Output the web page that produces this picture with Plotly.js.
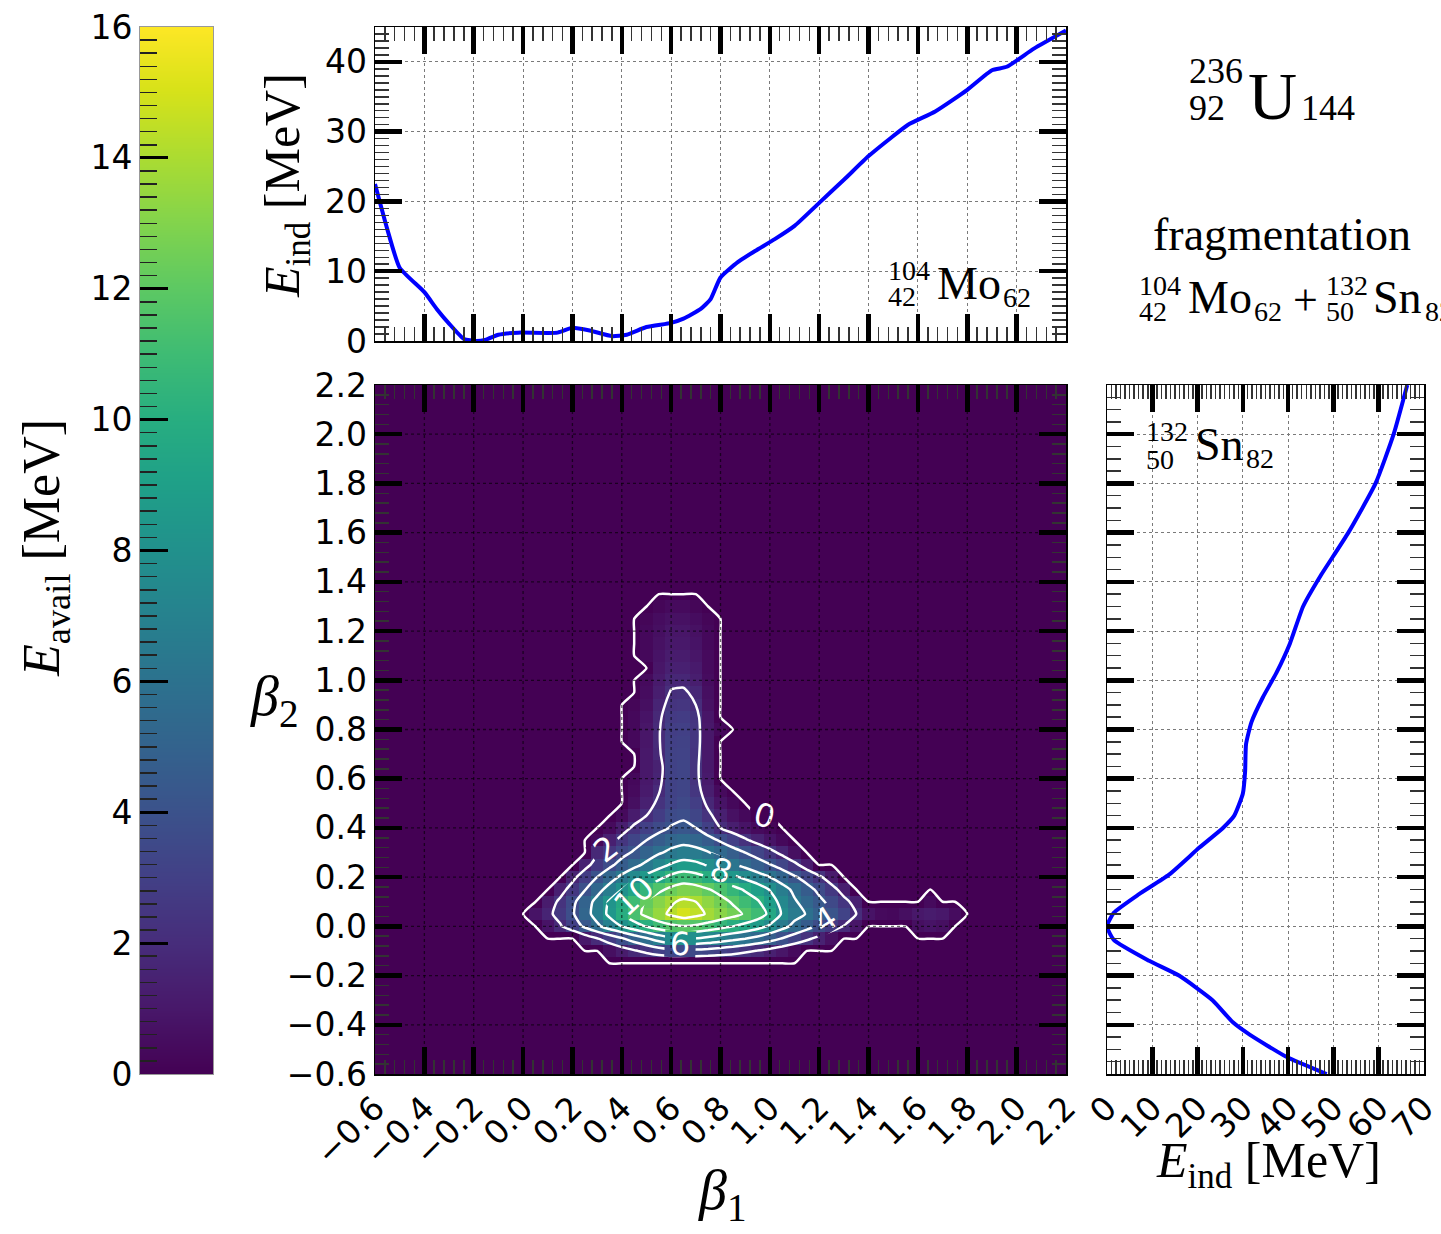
<!DOCTYPE html>
<html>
<head>
<meta charset="utf-8">
<script src="https://cdn.plot.ly/plotly-3.0.1.min.js"></script>
<style>html,body{margin:0;padding:0;background:#fff;}#chart{width:1441px;height:1234px;}</style>
</head>
<body>
<div id="chart"></div>
<script>
// ---------------- data ----------------
const beta1Ticks = [-0.6,-0.4,-0.2,0,0.2,0.4,0.6,0.8,1.0,1.2,1.4,1.6,1.8,2.0,2.2];
const beta1TickText = ['\u22120.6','\u22120.4','\u22120.2','0.0','0.2','0.4','0.6','0.8','1.0','1.2','1.4','1.6','1.8','2.0','2.2'];
const eIndTopTicks = [0,10,20,30,40];
const eIndRightTicks = [0,10,20,30,40,50,60,70];
const colorbarTicks = [0,2,4,6,8,10,12,14,16];

// top panel: E_ind of 104Mo vs beta1
const moBeta1 = [-0.60,-0.55,-0.50,-0.40,-0.35,-0.30,-0.24,-0.19,-0.15,-0.10,-0.02,0.14,0.20,0.27,0.36,0.42,0.50,0.60,0.65,0.72,0.76,0.80,0.87,0.94,1.02,1.10,1.20,1.30,1.40,1.49,1.56,1.67,1.80,1.90,1.96,2.07,2.20];
const moEind  = [22.5,16.0,10.5,7.0,4.6,2.5,0.3,0.0,0.2,0.9,1.2,1.2,1.9,1.5,0.7,0.9,2.0,2.6,3.2,4.6,6.0,9.1,11.3,12.9,14.6,16.5,19.8,23.1,26.5,29.1,31.0,32.9,36.0,38.8,39.3,41.9,44.5];

// right panel: E_ind of 132Sn vs beta2
const snEind  = [66.3,63.3,59.3,53.3,47.0,43.3,40.4,37.4,34.4,31.9,30.7,30.5,30.0,28.1,25.6,20.4,13.7,7.0,1.5,0.0,1.5,9.3,15.9,23.3,27.8,31.5,39.6,48.5];
const snBeta2 = [2.20,2.00,1.80,1.60,1.42,1.30,1.15,1.03,0.93,0.83,0.74,0.63,0.54,0.45,0.40,0.32,0.21,0.13,0.055,0.0,-0.055,-0.14,-0.20,-0.30,-0.39,-0.44,-0.53,-0.60];

// main map: E_avail(beta1, beta2), rows listed from top (beta2 = 1.40) to bottom (beta2 = -0.20)
const beta1Grid = [-0.05,0.00,0.05,0.10,0.15,0.20,0.25,0.30,0.35,0.40,0.45,0.50,0.55,0.60,0.65,0.70,0.75,0.80,0.85,0.90,0.95,1.00,1.05,1.10,1.15,1.20,1.25,1.30,1.35,1.40,1.45,1.50,1.55,1.60,1.65,1.70,1.75,1.80,1.85];
const beta2RowsTopDown = [1.40,1.35,1.30,1.25,1.20,1.15,1.10,1.05,1.00,0.95,0.90,0.85,0.80,0.75,0.70,0.65,0.60,0.55,0.50,0.45,0.40,0.35,0.30,0.25,0.20,0.15,0.10,0.05,0.00,-0.05,-0.10,-0.15,-0.20];
const eAvailRowsTopDown = [
[0,0,0,0,0,0,0,0,0,0, 0,0,0,0,0,0,0,0,0,0, 0,0,0,0,0,0,0,0,0,0, 0,0,0,0,0,0,0,0,0],
[0,0,0,0,0,0,0,0,0,0, 0,0,0,0,0,0,0,0,0,0, 0,0,0,0,0,0,0,0,0,0, 0,0,0,0,0,0,0,0,0],
[0,0,0,0,0,0,0,0,0,0, 0,0,0.2,0.4,0.4,0.2,0,0,0,0, 0,0,0,0,0,0,0,0,0,0, 0,0,0,0,0,0,0,0,0],
[0,0,0,0,0,0,0,0,0,0, 0,0.2,0.5,0.7,0.7,0.5,0.2,0,0,0, 0,0,0,0,0,0,0,0,0,0, 0,0,0,0,0,0,0,0,0],
[0,0,0,0,0,0,0,0,0,0, 0,0.3,0.6,0.9,0.9,0.7,0.3,0,0,0, 0,0,0,0,0,0,0,0,0,0, 0,0,0,0,0,0,0,0,0],
[0,0,0,0,0,0,0,0,0,0, 0,0.3,0.7,1.0,1.0,0.8,0.3,0,0,0, 0,0,0,0,0,0,0,0,0,0, 0,0,0,0,0,0,0,0,0],
[0,0,0,0,0,0,0,0,0,0, 0,0.3,0.8,1.2,1.2,0.9,0.4,0,0,0, 0,0,0,0,0,0,0,0,0,0, 0,0,0,0,0,0,0,0,0],
[0,0,0,0,0,0,0,0,0,0, 0,0,0.9,1.4,1.4,1.1,0.4,0,0,0, 0,0,0,0,0,0,0,0,0,0, 0,0,0,0,0,0,0,0,0],
[0,0,0,0,0,0,0,0,0,0, 0,0.4,1.1,1.7,1.7,1.3,0.5,0,0,0, 0,0,0,0,0,0,0,0,0,0, 0,0,0,0,0,0,0,0,0],
[0,0,0,0,0,0,0,0,0,0, 0,0.5,1.3,2.1,2.2,1.7,0.6,0,0,0, 0,0,0,0,0,0,0,0,0,0, 0,0,0,0,0,0,0,0,0],
[0,0,0,0,0,0,0,0,0,0, 0.2,0.6,1.6,2.4,2.5,2.0,0.7,0,0,0, 0,0,0,0,0,0,0,0,0,0, 0,0,0,0,0,0,0,0,0],
[0,0,0,0,0,0,0,0,0,0, 0.3,0.8,1.8,2.7,2.8,2.4,0.9,0,0,0, 0,0,0,0,0,0,0,0,0,0, 0,0,0,0,0,0,0,0,0],
[0,0,0,0,0,0,0,0,0,0, 0.3,0.9,1.9,2.9,3.0,2.5,1.0,0.3,0,0, 0,0,0,0,0,0,0,0,0,0, 0,0,0,0,0,0,0,0,0],
[0,0,0,0,0,0,0,0,0,0, 0.3,0.9,1.9,3.0,3.1,2.5,1.0,0,0,0, 0,0,0,0,0,0,0,0,0,0, 0,0,0,0,0,0,0,0,0],
[0,0,0,0,0,0,0,0,0,0, 0,1.0,1.8,3.1,3.2,2.4,1.0,0,0,0, 0,0,0,0,0,0,0,0,0,0, 0,0,0,0,0,0,0,0,0],
[0,0,0,0,0,0,0,0,0,0, 0,1.0,1.5,3.1,3.3,2.3,1.0,0,0,0, 0,0,0,0,0,0,0,0,0,0, 0,0,0,0,0,0,0,0,0],
[0,0,0,0,0,0,0,0,0,0, 0.3,1.0,1.6,3.1,3.3,2.3,1.1,0,0,0, 0,0,0,0,0,0,0,0,0,0, 0,0,0,0,0,0,0,0,0],
[0,0,0,0,0,0,0,0,0,0, 0.4,1.1,1.9,3.1,3.3,2.5,1.3,0.4,0,0, 0,0,0,0,0,0,0,0,0,0, 0,0,0,0,0,0,0,0,0],
[0,0,0,0,0,0,0,0,0,0, 0.6,1.4,2.3,3.2,3.5,2.9,1.7,0.8,0.3,0, 0,0,0,0,0,0,0,0,0,0, 0,0,0,0,0,0,0,0,0],
[0,0,0,0,0,0,0,0,0,0.4, 1.2,2.0,2.8,3.6,3.8,3.3,2.3,1.4,0.7,0.3, 0,0,0,0,0,0,0,0,0,0, 0,0,0,0,0,0,0,0,0],
[0,0,0,0,0,0,0,0,0.4,1.3, 2.3,3.0,3.6,4.1,4.3,4.0,3.0,2.0,1.3,0.8, 0.4,0.2,0,0,0,0,0,0,0,0, 0,0,0,0,0,0,0,0,0],
[0,0,0,0,0,0,0,0.3,1.4,2.5, 3.3,4.0,4.6,5.2,5.5,5.2,4.6,3.8,3.0,2.2, 1.5,0.8,0.3,0,0,0,0,0,0,0, 0,0,0,0,0,0,0,0,0],
[0,0,0,0,0,0,0,1.8,2.5,3.5, 4.2,5.0,5.8,6.4,6.8,6.6,6.1,5.4,4.7,4.0, 3.3,2.5,1.6,0.6,0,0,0,0,0,0, 0,0,0,0,0,0,0,0,0],
[0,0,0,0,0,0,1.5,2.6,3.6,4.6, 5.5,6.4,7.3,8.2,8.8,8.5,7.8,7.0,6.2,5.5, 4.8,4.1,3.3,2.4,1.2,0,0,0,0,0, 0,0,0,0,0,0,0,0,0],
[0,0,0,0,0,1.6,2.8,4.0,5.2,6.4, 7.5,8.5,9.5,10.5,11.0,10.7,10.0,9.2,8.4,7.6, 6.8,6.0,5.1,4.2,3.3,2.3,1.1,0,0,0, 0,0,0,0,0,0,0,0,0],
[0,0,0,0,1.4,2.6,3.9,5.3,6.7,8.0, 9.3,10.5,11.6,12.4,12.9,12.7,12.1,11.4,10.6,9.8, 9.0,7.9,6.7,5.6,4.6,3.6,2.6,1.3,0,0, 0,0,0,0,0,0,0,0,0],
[0,0,0,1.2,2.3,3.6,5.0,6.6,8.2,9.7, 11.0,12.2,13.1,13.8,14.3,14.0,13.3,12.6,11.8,11.0, 10.2,8.9,7.4,6.2,5.3,4.4,3.5,2.5,1.4,0, 0,0,0,0,0.4,0,0,0,0],
[0,0,0.8,1.6,2.6,3.8,5.2,6.8,8.4,10.0, 11.3,12.5,13.5,14.3,15.0,14.5,13.8,13.2,12.6,11.8, 11.0,9.6,7.8,6.6,5.9,4.9,4.2,3.2,2.0,0.8, 0.4,0.3,0.6,1.0,1.2,1.0,0.5,0,0],
[0,0,0,0.8,1.8,3.0,4.3,5.6,6.9,8.0, 9.1,10.1,11.0,11.6,11.9,11.7,11.2,10.6,10.0,9.4, 8.7,7.7,6.6,5.5,4.6,3.7,2.8,1.9,0.9,0, 0,0,0,0.6,0.8,0.6,0,0,0],
[0,0,0,0,0,0,1.0,1.9,2.8,3.8, 4.8,5.8,6.8,7.6,8.0,7.9,7.5,7.0,6.5,6.0, 5.4,4.7,3.9,3.1,2.3,1.5,0.7,0,0,0, 0,0,0,0,0,0,0,0,0],
[0,0,0,0,0,0,0,0,0.6,1.2, 1.8,2.4,3.0,3.4,3.5,3.5,3.3,3.0,2.7,2.3, 1.9,1.4,0.9,0.4,0,0,0,0,0,0, 0,0,0,0,0,0,0,0,0],
[0,0,0,0,0,0,0,0,0,0, 0,0,0,0,0,0,0,0,0,0, 0,0,0,0,0,0,0,0,0,0, 0,0,0,0,0,0,0,0,0],
[0,0,0,0,0,0,0,0,0,0, 0,0,0,0,0,0,0,0,0,0, 0,0,0,0,0,0,0,0,0,0, 0,0,0,0,0,0,0,0,0]
];

// ---------------- figure ----------------
const W = 1441, H = 1234;
const px = v => v / W;
const py = v => 1 - v / H;

const beta2Grid = beta2RowsTopDown.slice().reverse();
const eAvail = eAvailRowsTopDown.slice().reverse();

// colour ramp for the colour bar (scale guide, 0..16 MeV)
const rampLevels = [];
const rampZ = [];
for (let i = 0; i <= 160; i++) { const v = i / 10; rampLevels.push(v); rampZ.push([v, v]); }

const tickFont = {family: 'DejaVu Sans, sans-serif', size: 33, color: 'black'};
function frame(extra) {
  return Object.assign({
    ticks: 'inside', ticklen: 27, tickwidth: 4.5, tickcolor: 'black',
    showline: true, linecolor: 'black', linewidth: 1.5, mirror: 'allticks',
    zeroline: false, layer: 'above traces', tickfont: tickFont, fixedrange: true,
    ticklabeloverflow: 'allow'
  }, extra);
}
function minor(tick0, dtick) {
  return {ticks: 'inside', ticklen: 14, tickwidth: 1.5, tickcolor: '#333', tickmode: 'linear', tick0: tick0, dtick: dtick, showgrid: false};
}
const dotGrid = {showgrid: true, gridcolor: '#7a7a7a', gridwidth: 1, griddash: 'dot'};

const traces = [
  {type: 'heatmap', x: beta1Grid, y: beta2Grid, z: eAvail, colorscale: 'Viridis', zmin: 0, zmax: 16,
   zsmooth: false, showscale: false, hoverinfo: 'skip', xaxis: 'x', yaxis: 'y'},
  {type: 'contour', x: beta1Grid, y: beta2Grid, z: eAvail, showscale: false, hoverinfo: 'skip',
   contours: {coloring: 'none', start: 0.001, end: 16.001, size: 2, showlabels: true,
              labelfont: {family: 'DejaVu Sans, sans-serif', size: 32, color: 'white'}, labelformat: '.0f'},
   line: {color: 'white', width: 2.5, smoothing: 0.6}, xaxis: 'x', yaxis: 'y'},
  {type: 'scatter', mode: 'lines', x: moBeta1, y: moEind, line: {color: '#0000ff', width: 4, shape: 'spline', smoothing: 0.5},
   xaxis: 'x2', yaxis: 'y2', hoverinfo: 'skip', cliponaxis: true},
  {type: 'scatter', mode: 'lines', x: snEind, y: snBeta2, line: {color: '#0000ff', width: 4, shape: 'spline', smoothing: 0.5},
   xaxis: 'x3', yaxis: 'y3', hoverinfo: 'skip', cliponaxis: true},
  {type: 'heatmap', x: [0, 1], y: rampLevels, z: rampZ, colorscale: 'Viridis', zmin: 0, zmax: 16,
   zsmooth: 'best', showscale: false, hoverinfo: 'skip', xaxis: 'x4', yaxis: 'y4'}
];

const mainX = [px(375), px(1066)];
const mainY = [py(1074), py(385)];

const layout = {
  width: W, height: H,
  margin: {l: 0, r: 0, t: 0, b: 0, pad: 0},
  paper_bgcolor: 'white', plot_bgcolor: 'rgba(0,0,0,0)',
  showlegend: false,
  font: {family: 'DejaVu Sans, sans-serif', size: 33, color: 'black'},
  xaxis: frame({domain: mainX, anchor: 'y', range: [-0.6, 2.2], tickmode: 'array', tickvals: beta1Ticks, ticktext: beta1TickText,
                tickangle: -45, showgrid: false, minor: minor(-0.6, 0.04)}),
  yaxis: frame({domain: mainY, anchor: 'x', range: [-0.6, 2.2], tickmode: 'array', tickvals: beta1Ticks, ticktext: beta1TickText,
                showgrid: false, minor: minor(-0.6, 0.04)}),
  xaxis2: frame(Object.assign({domain: mainX, anchor: 'y2', range: [-0.6, 2.2], tickmode: 'array', tickvals: beta1Ticks,
                showticklabels: false, minor: minor(-0.6, 0.04)}, dotGrid)),
  yaxis2: frame(Object.assign({domain: [py(341), py(27)], anchor: 'x2', range: [0, 45], tickmode: 'array', tickvals: eIndTopTicks,
                minor: minor(0, 1)}, dotGrid)),
  xaxis3: frame(Object.assign({domain: [px(1107), px(1424)], anchor: 'y3', range: [0, 70.001], tickmode: 'array', tickvals: eIndRightTicks,
                tickangle: -45, minor: minor(0, 1)}, dotGrid)),
  yaxis3: frame(Object.assign({domain: mainY, anchor: 'x3', range: [-0.6, 2.2], tickmode: 'array', tickvals: beta1Ticks,
                showticklabels: false, minor: minor(-0.6, 0.05)}, dotGrid)),
  xaxis4: {domain: [px(140), px(213)], anchor: 'y4', range: [0, 1], showticklabels: false, ticks: '', showgrid: false,
           zeroline: false, showline: true, linecolor: '#999', linewidth: 1, mirror: true, fixedrange: true},
  yaxis4: {domain: [py(1074), py(27)], anchor: 'x4', range: [0, 16], tickmode: 'array', tickvals: colorbarTicks,
           ticks: 'inside', ticklen: 28, tickwidth: 3, tickcolor: 'black', showgrid: false, zeroline: false,
           showline: true, linecolor: '#999', linewidth: 1, mirror: true, layer: 'above traces', tickfont: tickFont,
           minor: {ticks: 'inside', ticklen: 17, tickwidth: 1.5, tickcolor: '#222', tickmode: 'linear', tick0: 0, dtick: 0.2},
           fixedrange: true},
  shapes: [],
  annotations: []
};

// dark background of the map and dotted grid drawn above it
layout.shapes.push({type: 'rect', xref: 'x domain', yref: 'y domain', x0: 0, x1: 1, y0: 0, y1: 1,
                    fillcolor: '#440154', line: {width: 0}, layer: 'below'});
beta1Ticks.slice(1, -1).forEach(v => {
  layout.shapes.push({type: 'line', xref: 'x', yref: 'y domain', x0: v, x1: v, y0: 0, y1: 1,
                      line: {color: 'rgba(0,0,0,0.6)', width: 1.3, dash: 'dot'}, layer: 'above'});
  layout.shapes.push({type: 'line', xref: 'x domain', yref: 'y', x0: 0, x1: 1, y0: v, y1: v,
                      line: {color: 'rgba(0,0,0,0.6)', width: 1.3, dash: 'dot'}, layer: 'above'});
});

const serif = 'Liberation Serif, DejaVu Serif, serif';
function txt(text, x, y, size, opts) {
  layout.annotations.push(Object.assign({
    text: text, xref: 'paper', yref: 'paper', x: px(x), y: py(y), showarrow: false,
    xanchor: 'center', yanchor: 'middle', borderpad: 0, font: {family: serif, size: size, color: 'black'}
  }, opts || {}));
}
// nuclide label: prescripts left-aligned at xs, symbol starting at xSym, neutron number at xN
function nuclide(xs, ySup, ySub, xSym, ySym, xN, yN, A, Z, sym, N, symSize, scrSize) {
  txt(A, xs, ySup, scrSize, {xanchor: 'left'});
  txt(Z, xs, ySub, scrSize, {xanchor: 'left'});
  txt(sym, xSym, ySym, symSize, {xanchor: 'left'});
  txt(N, xN, yN, scrSize, {xanchor: 'left'});
}

// axis titles
txt('<i>β</i><sub>1</sub>', 722, 1194, 56);
txt('<i>β</i><sub>2</sub>', 274, 700, 56);
txt('<i>E</i><sub>ind</sub> [MeV]', 1268, 1164, 50);
txt('<i>E</i><sub>ind</sub> [MeV]', 286, 186, 50, {textangle: -90});
txt('<i>E</i><sub>avail</sub> [MeV]', 46, 548, 52, {textangle: -90});

// nuclide annotations
nuclide(887, 271, 297, 936, 284, 1002, 298, '104', '42', 'Mo', '62', 46, 28);
nuclide(1145, 432, 459, 1194, 445, 1245, 458, '132', '50', 'Sn', '82', 46, 28);
nuclide(1188, 71, 108, 1247, 96, 1300, 108, '236', '92', 'U', '144', 68, 36);
txt('fragmentation', 1282, 234, 46);
nuclide(1138, 285, 311, 1187, 298, 1253, 311, '104', '42', 'Mo', '62', 46, 28);
txt('+', 1305, 300, 44);
nuclide(1325, 285, 311, 1372, 298, 1424, 311, '132', '50', 'Sn', '82', 46, 28);

Plotly.newPlot('chart', traces, layout, {displayModeBar: false, staticPlot: true});
</script>
</body>
</html>
